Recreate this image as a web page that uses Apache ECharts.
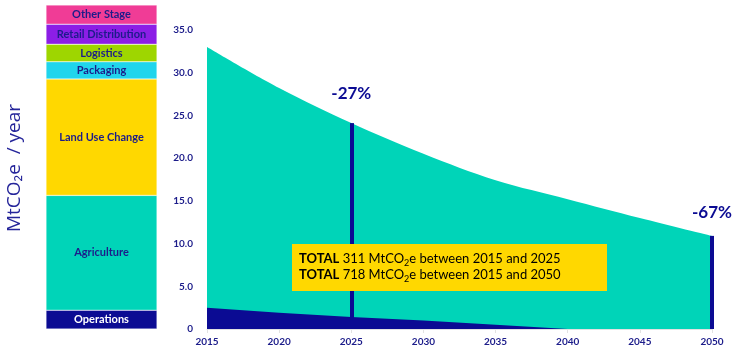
<!DOCTYPE html>
<html><head><meta charset="utf-8">
<script src="https://cdn.jsdelivr.net/npm/echarts@6/dist/echarts.min.js"></script>
<style>html,body{margin:0;padding:0;background:#fff}#c{width:736px;height:351px}</style>
</head><body><div id="c"></div>
<script>
// ---- data ----
const years = [2015, 2020, 2025, 2030, 2035, 2040, 2045, 2050];
const totalEmissions = [33.0, 28.2, 24.1, 20.5, 17.4, 15.2, 13.0, 10.9];
const operationsEmissions = [2.5, 1.9, 1.4, 1.0, 0.5, 0, 0, 0];
const stageNames = ['Operations', 'Agriculture', 'Land Use Change', 'Packaging', 'Logistics', 'Retail Distribution', 'Other Stage'];
const stageShares = [5.8, 35.4, 35.9, 5.3, 5.4, 6.2, 5.9];
const milestoneYears = [2025, 2050];
const totalValues = ['311', '718'];
const totalPeriods = [['2015', '2025'], ['2015', '2050']];
const yAxisTitle = 'MtCO\u2082e  / year';

// ---- styles ----
const NAVY = '#0b0b93';
const TEXT = '#1c1c8a';
const TEAL = '#00d4b8';
const stageColor = {
  'Operations': '#0b0b93',
  'Agriculture': '#00d4b8',
  'Land Use Change': '#ffd800',
  'Packaging': '#20d5ec',
  'Logistics': '#9ed600',
  'Retail Distribution': '#8c1ee6',
  'Other Stage': '#f03c96'
};

const chart = echarts.init(document.getElementById('c'), null, {renderer: 'canvas'});
const base = totalEmissions[0];
const shareSum = stageShares.reduce((a, b) => a + b, 0);

const series = [
  {
    type: 'line', xAxisIndex: 0, yAxisIndex: 0, smooth: 0.35, symbol: 'none',
    data: years.map((y, i) => [y, totalEmissions[i]]),
    lineStyle: {width: 0}, areaStyle: {color: TEAL, opacity: 1}, z: 2
  },
  {
    type: 'line', xAxisIndex: 0, yAxisIndex: 0, smooth: false, symbol: 'none',
    data: years.map((y, i) => [y, operationsEmissions[i]]),
    lineStyle: {width: 0}, areaStyle: {color: NAVY, opacity: 1}, z: 3,
    markLine: {
      silent: true, symbol: ['none', 'none'], animation: false,
      lineStyle: {color: NAVY, width: 4, type: 'solid'},
      data: milestoneYears.map((yr, k) => {
        const v = totalEmissions[years.indexOf(yr)];
        const pct = Math.round((v / base - 1) * 100);
        return [
          {coord: [yr, 0]},
          {coord: [yr, v], label: {
            show: true, position: 'end', formatter: pct + '%',
            distance: k === 0 ? 21 : 15,
            color: NAVY, fontSize: 17, fontWeight: 'bold', fontFamily: 'Lato'
          }}
        ];
      })
    }
  }
];

stageNames.forEach((name, i) => {
  series.push({
    type: 'bar', name: name, xAxisIndex: 1, yAxisIndex: 1, stack: 'mix',
    barWidth: '100%', data: [stageShares[i]],
    itemStyle: {color: stageColor[name], borderColor: 'rgba(255,255,255,0.6)', borderWidth: 0.5},
    label: {
      show: true, position: 'inside', formatter: name,
      color: name === 'Operations' ? '#ffffff' : TEXT,
      fontSize: 11, fontWeight: 'bold', fontFamily: 'Lato'
    },
    silent: true
  });
});

const noteText = totalValues.map((v, i) =>
  `{b|TOTAL} {r|${v} MtCO}{s|2}{r|e between ${totalPeriods[i][0]} and ${totalPeriods[i][1]}}`
).join('\n');

chart.setOption({
  animation: false,
  grid: [
    {left: 207, right: 24, top: 30, bottom: 22},
    {left: 46, width: 111, top: 5, bottom: 22}
  ],
  xAxis: [
    {
      type: 'value', gridIndex: 0, min: 2015, max: 2050, interval: 5,
      splitLine: {show: false},
      axisLine: {show: true, lineStyle: {color: '#e2e2e2'}},
      axisTick: {show: true, length: 4, lineStyle: {color: '#e2e2e2'}},
      axisLabel: {formatter: v => String(v), color: TEXT, fontSize: 10, fontWeight: 'bold', fontFamily: 'Lato', margin: 8}
    },
    {type: 'category', gridIndex: 1, data: ['mix'], show: false}
  ],
  yAxis: [
    {
      type: 'value', gridIndex: 0, min: 0, max: 35, interval: 5,
      splitLine: {show: false}, axisLine: {show: false}, axisTick: {show: false},
      axisLabel: {formatter: v => v === 0 ? '0' : v.toFixed(1), color: TEXT, fontSize: 10, fontWeight: 'bold', fontFamily: 'Lato', margin: 14}
    },
    {type: 'value', gridIndex: 1, min: 0, max: shareSum, show: false}
  ],
  series: series,
  graphic: [
    {
      type: 'text', x: 15, y: 168, rotation: Math.PI / 2,
      style: {
        text: yAxisTitle, align: 'center', verticalAlign: 'middle',
        fontSize: 19, fontFamily: 'Open Sans', fill: '#25259a'
      }
    },
    {
      type: 'rect', shape: {x: 292, y: 244, width: 315, height: 47},
      style: {fill: '#ffd800'}, z: 100
    },
    {
      type: 'text', x: 299, y: 252, z: 101,
      style: {
        text: noteText, verticalAlign: 'top', align: 'left',
        rich: {
          b: {fontSize: 13, fontWeight: 'bold', fontFamily: 'Lato', color: '#16165c', lineHeight: 16, verticalAlign: 'top'},
          r: {fontSize: 13, fontFamily: 'Lato', color: '#16165c', lineHeight: 16, verticalAlign: 'top'},
          s: {fontSize: 9, fontFamily: 'Lato', color: '#16165c', lineHeight: 8, padding: [8, 0, 0, 0], verticalAlign: 'bottom'}
        }
      }
    }
  ]
});
</script>
</body></html>
